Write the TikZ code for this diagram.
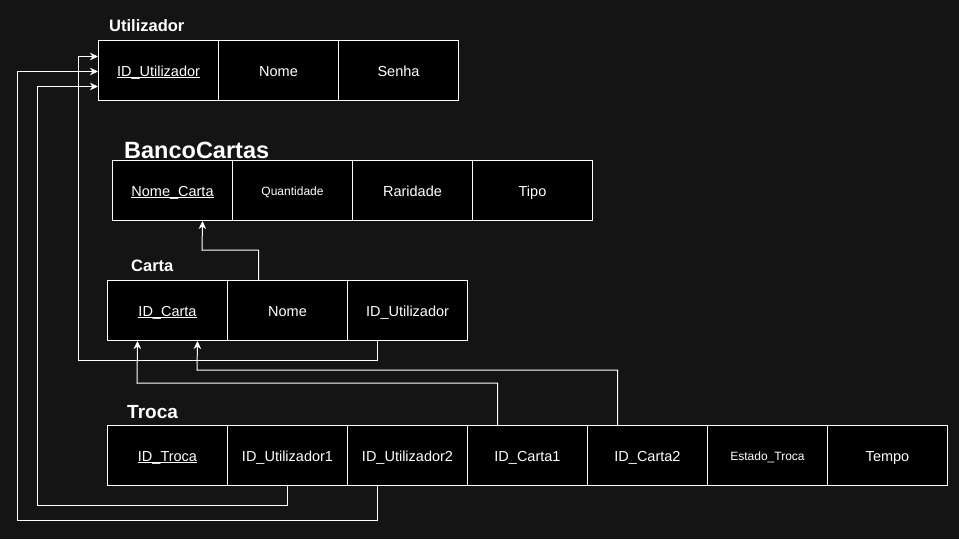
\documentclass[tikz,border=0pt]{standalone}
\usepackage{fontspec}
\setmainfont{Liberation Sans}
\usetikzlibrary{arrows.meta,calc}
\definecolor{bg}{RGB}{20,20,20}
\newcommand{\undl}[1]{\setbox0\hbox{#1}\rlap{\rule[-1.8pt]{\wd0}{0.9pt}}\box0}
\begin{document}
\begin{tikzpicture}[x=1pt,y=-1pt,
  cell/.style={draw=white,fill=black,text=white,line width=1pt,minimum width=120pt,minimum height=60pt,inner sep=0pt,anchor=north west,text height=12pt,text depth=0pt,font=\fontsize{14.5}{16}\selectfont},
  smalltext/.style={font=\fontsize{12}{14}\selectfont,text height=10pt,text depth=0pt},
  ttl/.style={text=white,anchor=base west,inner sep=0pt,font=\bfseries\fontsize{#1}{#1}\selectfont},
  conn/.style={draw=white,line width=1pt,-{Stealth[length=8pt,width=7.5pt,inset=2.5pt]}},
]
\path[fill=bg] (0,0) rectangle (959,539);

% Titles
\node[ttl=16.5] (tu) at (109,31) {Utilizador};
\node[ttl=23.5] (tb) at (124,158) {BancoCartas};
\node[ttl=16.5] (tc) at (131,271) {Carta};
\node[ttl=19] (tt) at (127,418) {Troca};

% Utilizador
\node[cell] (u1) at (98,40) {\undl{ID\_Utilizador}};
\node[cell] (u2) at (218,40) {Nome};
\node[cell] (u3) at (338,40) {Senha};

% BancoCartas
\node[cell] (b1) at (112,160) {\undl{Nome\_Carta}};
\node[cell,smalltext] (b2) at (232,160) {Quantidade};
\node[cell] (b3) at (352,160) {Raridade};
\node[cell] (b4) at (472,160) {Tipo};

% Carta
\node[cell] (c1) at (107,280) {\undl{ID\_Carta}};
\node[cell] (c2) at (227,280) {Nome};
\node[cell] (c3) at (347,280) {ID\_Utilizador};

% Troca
\node[cell] (t1) at (107,425) {\undl{ID\_Troca}};
\node[cell] (t2) at (227,425) {ID\_Utilizador1};
\node[cell] (t3) at (347,425) {ID\_Utilizador2};
\node[cell] (t4) at (467,425) {ID\_Carta1};
\node[cell] (t5) at (587,425) {ID\_Carta2};
\node[cell,smalltext] (t6) at (707,425) {Estado\_Troca};
\node[cell] (t7) at (827,425) {Tempo};

% bend points
\coordinate (k1) at (78,360);
\coordinate (k2) at (37,505);
\coordinate (k3) at (17,520);
\coordinate (k4) at (137,383);
\coordinate (k5) at (197,370);
\coordinate (k6) at (202,250);

% connectors
\draw[conn] ($(c2.north)+(-29,0)$) |- (k6) -- ($(b1.south)+(30,0)$);
\draw[conn] ($(c3.south)+(-30,0)$) |- (k1) |- ($(u1.west)+(0,-14)$);
\draw[conn] (t2.south) |- (k2) |- ($(u1.west)+(0,16)$);
\draw[conn] ($(t3.south)+(-30,0)$) |- (k3) |- ($(u1.west)+(0,1)$);
\draw[conn] ($(t4.north)+(-30,0)$) |- (k4) -- ($(c1.south)+(-30,0)$);
\draw[conn] ($(t5.north)+(-30,0)$) |- (k5) -- ($(c1.south)+(30,0)$);
\end{tikzpicture}
\end{document}
